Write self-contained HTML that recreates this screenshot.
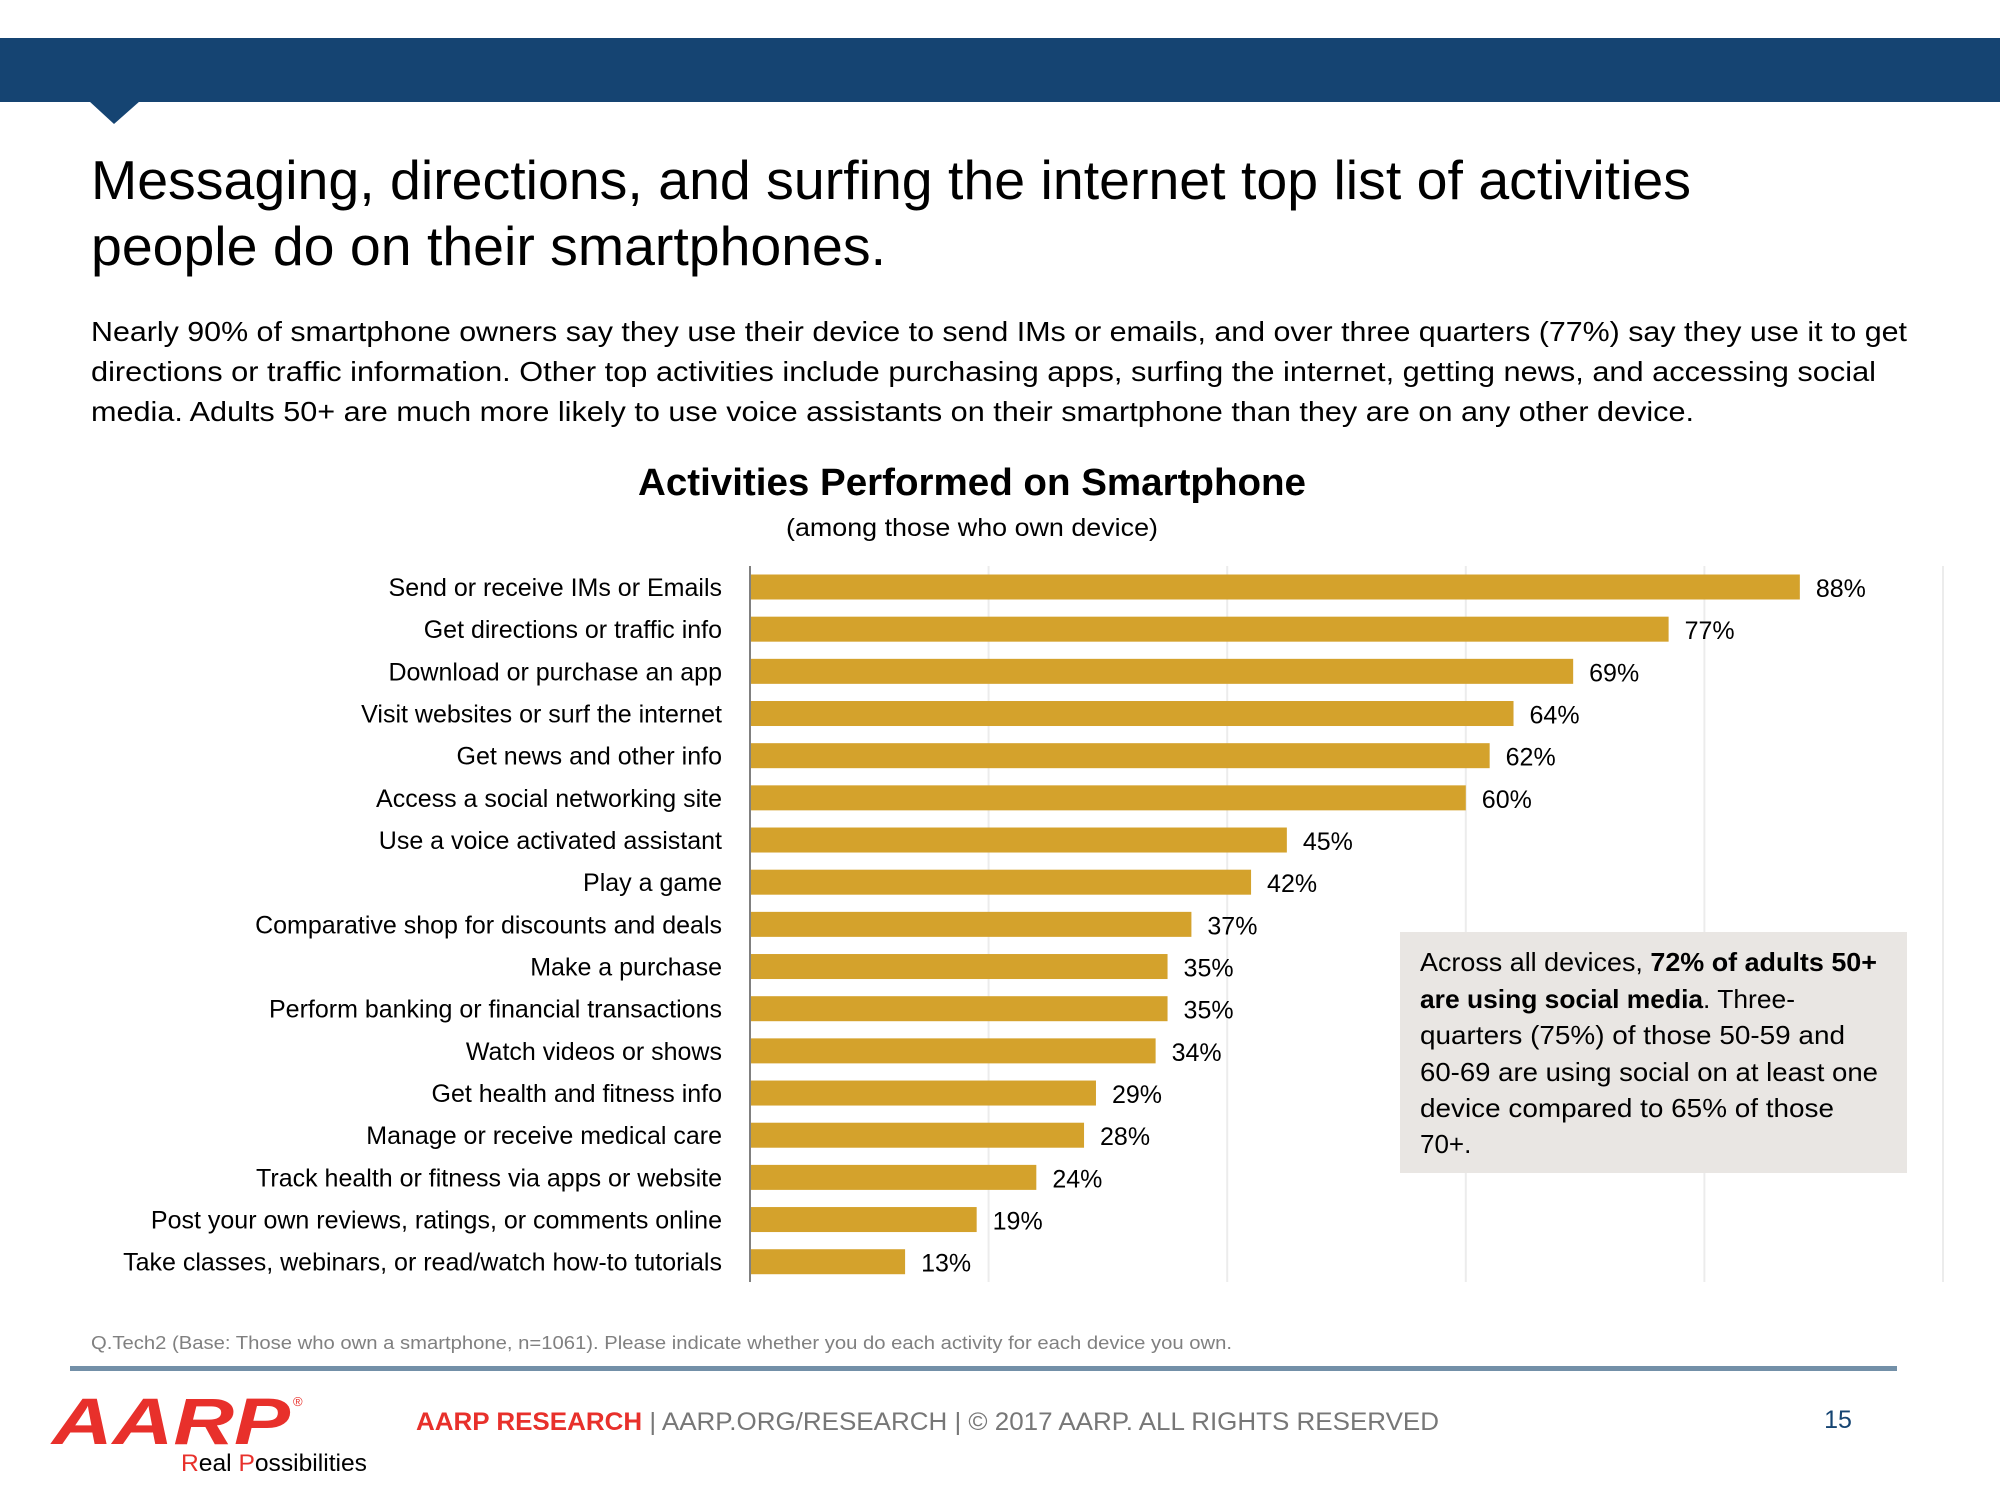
<!DOCTYPE html>
<html><head><meta charset="utf-8"><style>
html,body{margin:0;padding:0;background:#fff}
svg{display:block}
text{font-family:"Liberation Sans",sans-serif}
</style></head><body>
<svg id="chart" width="2000" height="1500" viewBox="0 0 2000 1500" xmlns="http://www.w3.org/2000/svg">
<rect x="0" y="38" width="2000" height="64" fill="#154472"/>
<polygon points="89,101 140,101 114,124" fill="#154472"/>
<g font-size="55" fill="#000">
<text x="91" y="199" textLength="1600" lengthAdjust="spacingAndGlyphs">Messaging, directions, and surfing the internet top list of activities</text>
<text x="91" y="265" textLength="795" lengthAdjust="spacingAndGlyphs">people do on their smartphones.</text>
</g>
<g font-size="28" fill="#000">
<text x="91" y="341" textLength="1816" lengthAdjust="spacingAndGlyphs">Nearly 90% of smartphone owners say they use their device to send IMs or emails, and over three quarters (77%) say they use it to get</text>
<text x="91" y="381" textLength="1785" lengthAdjust="spacingAndGlyphs">directions or traffic information. Other top activities include purchasing apps, surfing the internet, getting news, and accessing social</text>
<text x="91" y="421" textLength="1603" lengthAdjust="spacingAndGlyphs">media. Adults 50+ are much more likely to use voice assistants on their smartphone than they are on any other device.</text>
</g>
<text x="972" y="495" text-anchor="middle" font-size="38" font-weight="bold" textLength="668" lengthAdjust="spacingAndGlyphs">Activities Performed on Smartphone</text>
<text x="972" y="536" text-anchor="middle" font-size="25" textLength="372" lengthAdjust="spacingAndGlyphs">(among those who own device)</text>
<g id="grid"></g>
<g id="bars"></g>
<rect x="1400" y="932" width="507" height="241" fill="#e9e6e3"/>
<g font-size="26" fill="#000">
<text x="1420" y="971" textLength="457" lengthAdjust="spacingAndGlyphs">Across all devices, <tspan font-weight="bold">72% of adults 50+</tspan></text>
<text x="1420" y="1008" textLength="375" lengthAdjust="spacingAndGlyphs"><tspan font-weight="bold">are using social media</tspan>. Three-</text>
<text x="1420" y="1044" textLength="425" lengthAdjust="spacingAndGlyphs">quarters (75%) of those 50-59 and</text>
<text x="1420" y="1081" textLength="458" lengthAdjust="spacingAndGlyphs">60-69 are using social on at least one</text>
<text x="1420" y="1117" textLength="414" lengthAdjust="spacingAndGlyphs">device compared to 65% of those</text>
<text x="1420" y="1153">70+.</text>
</g>
<text x="91" y="1349" font-size="18" fill="#808080" textLength="1141" lengthAdjust="spacingAndGlyphs">Q.Tech2 (Base: Those who own a smartphone, n=1061). Please indicate whether you do each activity for each device you own.</text>
<rect x="70" y="1366" width="1827" height="5" fill="#7390a8"/>
<g>
<text x="52" y="1444" font-size="66" font-weight="bold" font-style="italic" fill="#e8302b" textLength="238" lengthAdjust="spacingAndGlyphs">AARP</text>
<text x="293" y="1406" font-size="13" fill="#e8302b">®</text>
<text x="181" y="1471" font-size="24" fill="#000" textLength="186" lengthAdjust="spacingAndGlyphs"><tspan fill="#e8302b">R</tspan>eal <tspan fill="#e8302b">P</tspan>ossibilities</text>
</g>
<text x="416" y="1430" font-size="25" fill="#777" textLength="1023" lengthAdjust="spacingAndGlyphs"><tspan fill="#e8302b" font-weight="bold">AARP RESEARCH</tspan>  |  AARP.ORG/RESEARCH  |  © 2017 AARP. ALL RIGHTS RESERVED</text>
<text x="1838" y="1428" text-anchor="middle" font-size="25" fill="#154472">15</text>
</svg>
<script>
const categories = ["Send or receive IMs or Emails","Get directions or traffic info","Download or purchase an app","Visit websites or surf the internet","Get news and other info","Access a social networking site","Use a voice activated assistant","Play a game","Comparative shop for discounts and deals","Make a purchase","Perform banking or financial transactions","Watch videos or shows","Get health and fitness info","Manage or receive medical care","Track health or fitness via apps or website","Post your own reviews, ratings, or comments online","Take classes, webinars, or read/watch how-to tutorials"];
const values = [88,77,69,64,62,60,45,42,37,35,35,34,29,28,24,19,13];
const valueLabels = ["88%","77%","69%","64%","62%","60%","45%","42%","37%","35%","35%","34%","29%","28%","24%","19%","13%"];
const gridTicks = [20,40,60,80,100];

const NS = "http://www.w3.org/2000/svg";
const x0 = 750, pxPer = 11.93, plotTop = 566, plotBottom = 1282;
const firstY = 587, step = 42.17, barH = 25;
const xScale = v => x0 + v * pxPer;
const yScale = i => firstY + i * step;

const grid = document.getElementById("grid");
gridTicks.forEach(t => {
  const l = document.createElementNS(NS, "line");
  l.setAttribute("x1", xScale(t)); l.setAttribute("x2", xScale(t));
  l.setAttribute("y1", plotTop); l.setAttribute("y2", plotBottom);
  l.setAttribute("stroke", "#ececec"); l.setAttribute("stroke-width", "2");
  
  
  grid.appendChild(l);
});
const axis = document.createElementNS(NS, "line");
axis.setAttribute("x1", x0); axis.setAttribute("x2", x0);
axis.setAttribute("y1", plotTop); axis.setAttribute("y2", plotBottom);
axis.setAttribute("stroke", "#808080"); axis.setAttribute("stroke-width", "2");


grid.appendChild(axis);

const bars = document.getElementById("bars");
categories.forEach((c, i) => {
  const cy = yScale(i);
  const lab = document.createElementNS(NS, "text");
  lab.setAttribute("x", 722); lab.setAttribute("y", cy + 9);
  lab.setAttribute("text-anchor", "end"); lab.setAttribute("font-size", "25");
  lab.textContent = c;
  
  
  bars.appendChild(lab);
  const r = document.createElementNS(NS, "rect");
  r.setAttribute("x", x0 + 1); r.setAttribute("y", cy - barH / 2);
  r.setAttribute("width", xScale(values[i]) - x0 - 1); r.setAttribute("height", barH);
  r.setAttribute("fill", "#d4a22c");
  
  
  bars.appendChild(r);
  const v = document.createElementNS(NS, "text");
  v.setAttribute("x", xScale(values[i]) + 16); v.setAttribute("y", cy + 10);
  v.setAttribute("font-size", "25");
  v.textContent = valueLabels[i];
  
  
  bars.appendChild(v);
});
</script>
</body></html>
